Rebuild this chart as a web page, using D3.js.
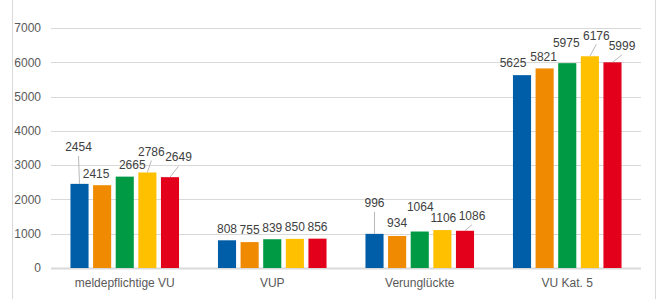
<!DOCTYPE html>
<html>
<head>
<meta charset="utf-8">
<script src="https://cdn.jsdelivr.net/npm/d3@7"></script>
<style>
  html, body { margin: 0; padding: 0; background: #fff; }
  svg { display: block; font-family: "Liberation Sans", Arial, sans-serif; }
</style>
</head>
<body>
<div id="chart"></div>
<script>
// Kategorien und Werte je Serie (5 Jahre, Reihenfolge wie im Bild)
const categories = ['meldepflichtige VU', 'VUP', 'Verunglückte', 'VU Kat. 5'];
const series1 = [2454, 808, 996, 5625];
const series2 = [2415, 755, 934, 5821];
const series3 = [2665, 839, 1064, 5975];
const series4 = [2786, 850, 1106, 6176];
const series5 = [2649, 856, 1086, 5999];
const yTicks = [0, 1000, 2000, 3000, 4000, 5000, 6000, 7000];

const seriesValues = [series1, series2, series3, series4, series5];
const seriesColors = ['#005EA8', '#F08A00', '#009A44', '#FFC000', '#E3001B'];

// manuell verschobene Datenbeschriftungen (dx, dy in px, Führungslinie)
const labelNudge = [
  [[-1, -25, true], [-6, 0, false], [7.5, 0, false], [4, -9, true], [8.5, -8, true]],
  [[0, 0, false], [0, 0, false], [0, 0, false], [0, 0, false], [0, 0, false]],
  [[0, -19, true], [0, -1, false], [0.5, -12.5, false], [1, 0, false], [7, -3, true]],
  [[-9, 0, false], [-1, 0, false], [-1, -8.5, false], [6.5, -9, true], [9.5, -4.5, true]]
];

const width = 664, height = 299;
const margin = { left: 51, right: 23, top: 28, bottom: 31 };

const svg = d3.select('#chart').append('svg')
  .attr('width', width)
  .attr('height', height);

// Rahmen links/rechts
svg.append('line').attr('x1', 12.5).attr('x2', 12.5).attr('y1', 0).attr('y2', height)
  .attr('stroke', '#d9d9d9').attr('stroke-width', 1);
svg.append('line').attr('x1', 655.5).attr('x2', 655.5).attr('y1', 0).attr('y2', height)
  .attr('stroke', '#d9d9d9').attr('stroke-width', 1);

const x0 = d3.scaleBand()
  .domain(categories)
  .range([margin.left, width - margin.right])
  .paddingInner(0.264)
  .paddingOuter(0.132);

const x1 = d3.scaleBand()
  .domain(d3.range(seriesValues.length))
  .range([0, x0.bandwidth()])
  .paddingInner(0.2);

const y = d3.scaleLinear()
  .domain([0, 7000])
  .range([height - margin.bottom, margin.top]);

// Gitternetzlinien
svg.append('g')
  .selectAll('line')
  .data(yTicks)
  .join('line')
  .attr('x1', margin.left)
  .attr('x2', width - margin.right)
  .attr('y1', d => Math.round(y(d)) + 0.5)
  .attr('y2', d => Math.round(y(d)) + 0.5)
  .attr('stroke', '#d9d9d9')
  .attr('stroke-width', d => d === 0 ? 2 : 1);

// Y-Achse
const yAxis = svg.append('g')
  .attr('transform', `translate(${margin.left - 10},0)`)
  .call(d3.axisLeft(y).tickValues(yTicks).tickFormat(d3.format('d')).tickSize(0).tickPadding(0));
yAxis.select('.domain').remove();
yAxis.selectAll('text')
  .attr('fill', '#595959')
  .style('font-size', '12px');

// X-Achse
const xAxis = svg.append('g')
  .attr('transform', `translate(0,${height - margin.bottom})`)
  .call(d3.axisBottom(x0).tickSize(0).tickPadding(10));
xAxis.select('.domain').remove();
xAxis.selectAll('text')
  .attr('fill', '#595959')
  .style('font-size', '12px');

// Balken
const groups = svg.append('g')
  .selectAll('g')
  .data(categories)
  .join('g')
  .attr('transform', d => `translate(${x0(d)},0)`);

const barData = (cat, ci) => seriesValues.map((vals, si) => ({
  cat, ci, si, value: vals[ci]
}));

groups.selectAll('rect')
  .data((d, ci) => barData(d, ci))
  .join('rect')
  .attr('x', d => x1(d.si))
  .attr('width', x1.bandwidth())
  .attr('y', d => y(d.value))
  .attr('height', d => y(0) - y(d.value))
  .attr('fill', d => seriesColors[d.si]);

// Datenbeschriftungen mit Führungslinien
const labels = groups.selectAll('g.lbl')
  .data((d, ci) => barData(d, ci))
  .join('g')
  .attr('class', 'lbl');

labels.each(function (d) {
  const g = d3.select(this);
  const [dx, dy, leader] = labelNudge[d.ci][d.si];
  const bx = x1(d.si) + x1.bandwidth() / 2;
  const top = y(d.value);
  const cx = bx + dx;
  const cy = top - 12 + dy;

  if (leader) {
    g.append('line')
      .attr('x1', cx)
      .attr('y1', cy + 9)
      .attr('x2', bx)
      .attr('y2', top)
      .attr('stroke', '#a6a6a6')
      .attr('stroke-width', 0.8);
  }

  g.append('text')
    .attr('x', cx)
    .attr('y', cy + 4.3)
    .attr('text-anchor', 'middle')
    .attr('fill', '#404040')
    .style('font-size', '12px')
    .text(d.value);
});
</script>
</body>
</html>
